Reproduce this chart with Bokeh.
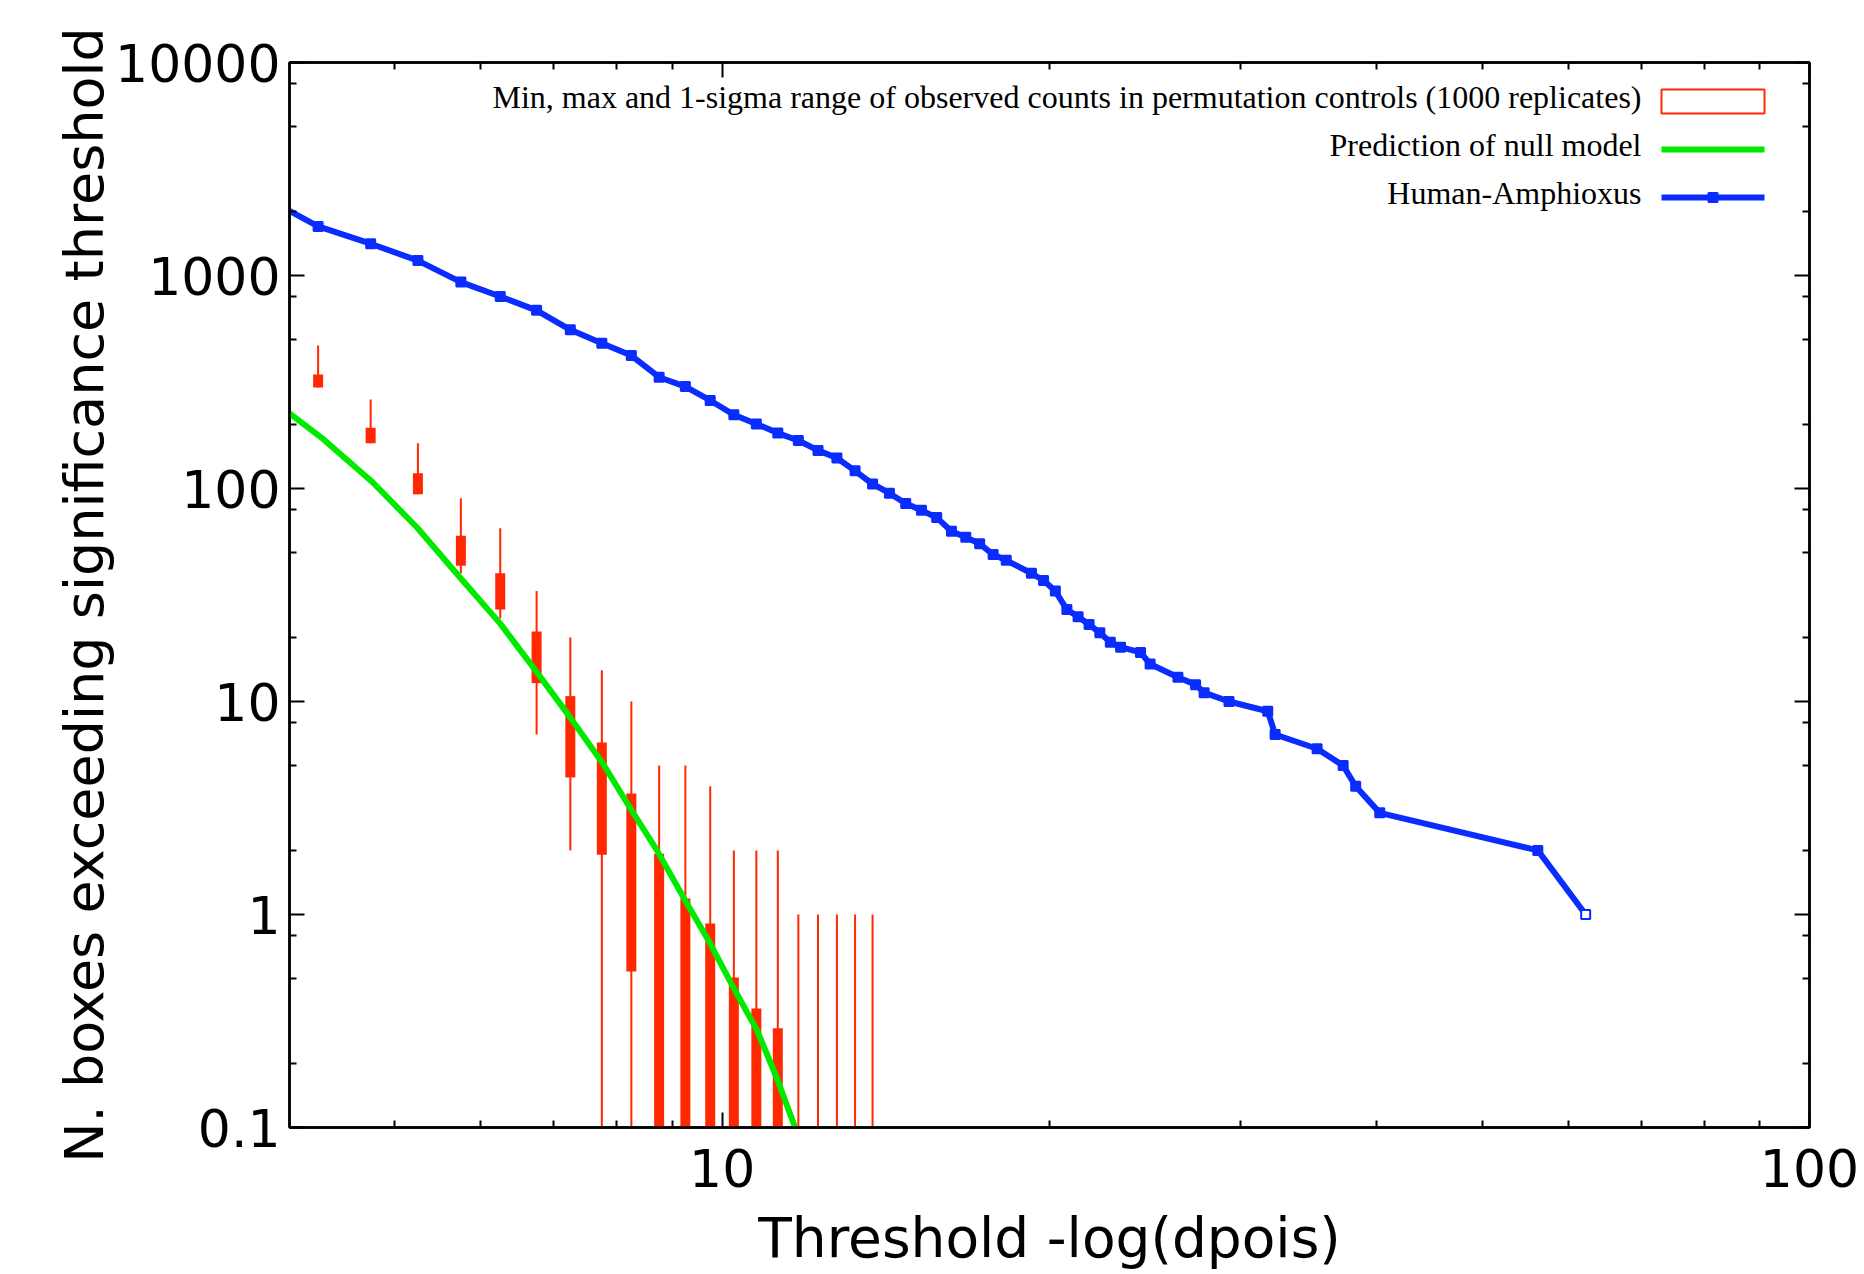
import math
from bokeh.plotting import figure
from bokeh.models import (FixedTicker, CustomJSTickFormatter, LogAxis, Label,
                          BoxAnnotation, Arrow, Range1d)
from bokeh.embed import file_html
from bokeh.resources import INLINE

# ---------------- data ----------------
# observed counts (Human-Amphioxus)
obs_x = [3.75, 4.25, 4.75, 5.25, 5.75, 6.25, 6.75, 7.25, 7.75, 8.25, 8.75, 9.25, 9.75,
         10.25, 10.75, 11.25, 11.75, 12.25, 12.75, 13.25, 13.75, 14.25, 14.75, 15.25,
         15.75, 16.25, 16.75, 17.25, 17.75, 18.25, 19.25, 19.75, 20.25, 20.75, 21.25,
         21.75, 22.25, 22.75, 23.25, 24.25, 24.75, 26.25, 27.25, 27.75, 29.25, 31.75,
         32.25, 35.25, 37.25, 38.25, 40.25, 56.25, 62.25]
obs_y = [2400, 1700, 1410, 1175, 931, 797, 686, 556, 481, 421, 333, 301, 259,
         222, 201, 182, 168, 151, 139, 121, 105, 95, 85, 79,
         73, 63, 59, 55, 49, 46, 40, 37, 33, 27, 25,
         23, 21, 19, 18, 17, 15, 13, 12, 11, 10, 9,
         7, 6, 5, 4, 3, 2, 1]

# null model prediction
null_x = [4.0, 4.3, 4.77, 5.24, 5.74, 6.25, 6.7, 7.25, 7.77, 8.18, 8.71, 9.25, 9.75,
          10.24, 10.77, 11.24, 11.67, 12.2]
null_y = [225, 170, 107, 65.6, 38.2, 23.2, 14.5, 8.4, 5.1, 3.32, 2.0, 1.16, 0.73,
          0.454, 0.285, 0.168, 0.1, 0.055]

# permutation controls: min, max, mean-sd, mean+sd (0 = below the axis)
perm_x = [4.25, 4.75, 5.25, 5.75, 6.25, 6.75, 7.25, 7.75, 8.25, 8.75, 9.25, 9.75,
          10.25, 10.75, 11.25, 11.75, 12.25, 12.75, 13.25, 13.75]
perm_min = [298, 163, 94, 40, 24.5, 7, 2, 0, 0, 0, 0, 0, 0, 0, 0, 0, 0, 0, 0, 0]
perm_max = [469, 262, 163, 90, 65, 33, 20, 14, 10, 5, 5, 4, 2, 2, 2, 1, 1, 1, 1, 1]
perm_sig_lo = [298, 163, 94, 43.4, 27, 12.2, 4.4, 1.91, 0.54, 0, 0, 0, 0, 0, 0, 0, 0, 0, 0, 0]
perm_sig_hi = [343, 193, 118, 60, 40, 21.3, 10.6, 6.42, 3.7, 1.93, 1.19, 0.908,
               0.506, 0.362, 0.292, 0.09, 0.07, 0.05, 0.04, 0.03]

y_major = [0.1, 1, 10, 100, 1000, 10000]
y_minor = [0.2, 0.5, 0.8, 2, 5, 8, 20, 50, 80, 200, 500, 800, 2000, 5000, 8000]
x_major = [10, 100]
x_minor = [5, 6, 7, 8, 9, 20, 30, 40, 50, 60, 70, 80, 90]

legend_labels = ["Min, max and 1-sigma range of observed counts in permutation controls (1000 replicates)",
                 "Prediction of null model",
                 "Human-Amphioxus"]

X_MIN, X_MAX = 4, 100
Y_MIN, Y_MAX = 0.1, 10000

RED = "#ff2800"
GREEN = "#00ea00"
BLUE = "#0b2cff"
FLOOR = 1e-3  # stands in for 0 on the log axis (below visible range)

# ---------------- figure ----------------
W, H = 1864, 1274
ML, MR, MT, MB = 289, 55, 62, 147
FRAME_W = W - ML - MR
FRAME_H = H - MT - MB

p = figure(width=W, height=H, x_axis_type="log", y_axis_type="log",
           x_range=Range1d(X_MIN, X_MAX), y_range=Range1d(Y_MIN, Y_MAX),
           output_backend="svg", toolbar_location=None,
           min_border_left=ML, min_border_right=MR, min_border_top=MT, min_border_bottom=MB)
p.xgrid.visible = False
p.ygrid.visible = False
p.outline_line_color = "black"
p.outline_line_width = 2.5
p.background_fill_color = "white"
p.border_fill_color = "white"

fmt = CustomJSTickFormatter(code="return tick.toString()")
blank = CustomJSTickFormatter(code="return ''")


def style_axis(ax, ticker, formatter):
    ax.ticker = ticker
    ax.formatter = formatter
    ax.axis_line_width = 2.5
    ax.axis_line_color = "black"
    ax.major_tick_in = 15
    ax.major_tick_out = 0
    ax.minor_tick_in = 7
    ax.minor_tick_out = 0
    ax.major_tick_line_width = 2
    ax.minor_tick_line_width = 2
    ax.major_tick_line_color = "black"
    ax.minor_tick_line_color = "black"
    ax.major_label_text_font = "DejaVu Sans"
    ax.major_label_text_font_size = "52px"
    ax.major_label_text_color = "black"
    ax.axis_label_text_font = "DejaVu Sans"
    ax.axis_label_text_font_style = "normal"
    ax.axis_label_text_color = "black"


xt = FixedTicker(ticks=x_major, minor_ticks=x_minor)
yt = FixedTicker(ticks=y_major, minor_ticks=y_minor)

style_axis(p.xaxis[0], xt, fmt)
style_axis(p.yaxis[0], yt, fmt)
p.xaxis.axis_label = "Threshold -log(dpois)"
p.xaxis.axis_label_text_font_size = "55px"
p.xaxis.major_label_standoff = 21
p.xaxis.axis_label_standoff = 16
p.yaxis.axis_label = "N. boxes exceeding significance threshold"
p.yaxis.axis_label_text_font_size = "54px"
p.yaxis.major_label_standoff = 9
p.yaxis.axis_label_standoff = -4

top_ax = LogAxis()
style_axis(top_ax, FixedTicker(ticks=x_major, minor_ticks=x_minor), blank)
top_ax.major_label_standoff = 0
p.add_layout(top_ax, "above")
right_ax = LogAxis()
style_axis(right_ax, FixedTicker(ticks=y_major, minor_ticks=y_minor), blank)
right_ax.major_label_standoff = 0
p.add_layout(right_ax, "right")

# ---------------- glyphs ----------------
w_lo = [v if v > 0 else FLOOR for v in perm_min]
s_lo = [v if v > 0 else FLOOR for v in perm_sig_lo]
p.segment(x0=perm_x, y0=w_lo, x1=perm_x, y1=perm_max, line_color=RED, line_width=2)
p.segment(x0=perm_x, y0=s_lo, x1=perm_x, y1=perm_sig_hi, line_color=RED,
          line_width=10, line_cap="butt")

p.line(null_x, null_y, line_color=GREEN, line_width=6)

p.line(obs_x, obs_y, line_color=BLUE, line_width=6)
marker_fill = [BLUE] * (len(obs_x) - 1) + ["white"]
p.scatter(obs_x, obs_y, marker="square", size=9, line_color=BLUE, line_width=2,
          fill_color=marker_fill)

# ---------------- legend (annotations) ----------------
def data_x(px):
    return 10 ** (math.log10(X_MIN) + px / FRAME_W * math.log10(X_MAX / X_MIN))


def data_y(py):
    return 10 ** (math.log10(Y_MAX) - py / FRAME_H * math.log10(Y_MAX / Y_MIN))


TEXT_RIGHT = 1352
SW_L, SW_R = 1372, 1475
ROWS = [39, 87, 135]
TEXT_LIFT = 5

for lab, row in zip(legend_labels, ROWS):
    p.add_layout(Label(x=data_x(TEXT_RIGHT), y=data_y(row - TEXT_LIFT), text=lab,
                       text_align="right", text_baseline="middle",
                       text_font="Liberation Serif", text_font_size="32px",
                       text_color="black"))

p.add_layout(BoxAnnotation(left=data_x(SW_L), right=data_x(SW_R),
                           top=data_y(ROWS[0] - 12), bottom=data_y(ROWS[0] + 12),
                           fill_color="white", fill_alpha=1.0,
                           line_color=RED, line_width=2, line_alpha=1.0))
p.add_layout(Arrow(end=None, x_start=data_x(SW_L), y_start=data_y(ROWS[1]),
                   x_end=data_x(SW_R), y_end=data_y(ROWS[1]),
                   line_color=GREEN, line_width=6))
p.add_layout(Arrow(end=None, x_start=data_x(SW_L), y_start=data_y(ROWS[2]),
                   x_end=data_x(SW_R), y_end=data_y(ROWS[2]),
                   line_color=BLUE, line_width=6))
mid = (SW_L + SW_R) / 2
p.add_layout(BoxAnnotation(left=data_x(mid - 4.5), right=data_x(mid + 4.5),
                           top=data_y(ROWS[2] - 4.5), bottom=data_y(ROWS[2] + 4.5),
                           fill_color=BLUE, fill_alpha=1.0, line_color=BLUE,
                           line_width=2, line_alpha=1.0))

open("out.html", "w").write(file_html(p, INLINE))
